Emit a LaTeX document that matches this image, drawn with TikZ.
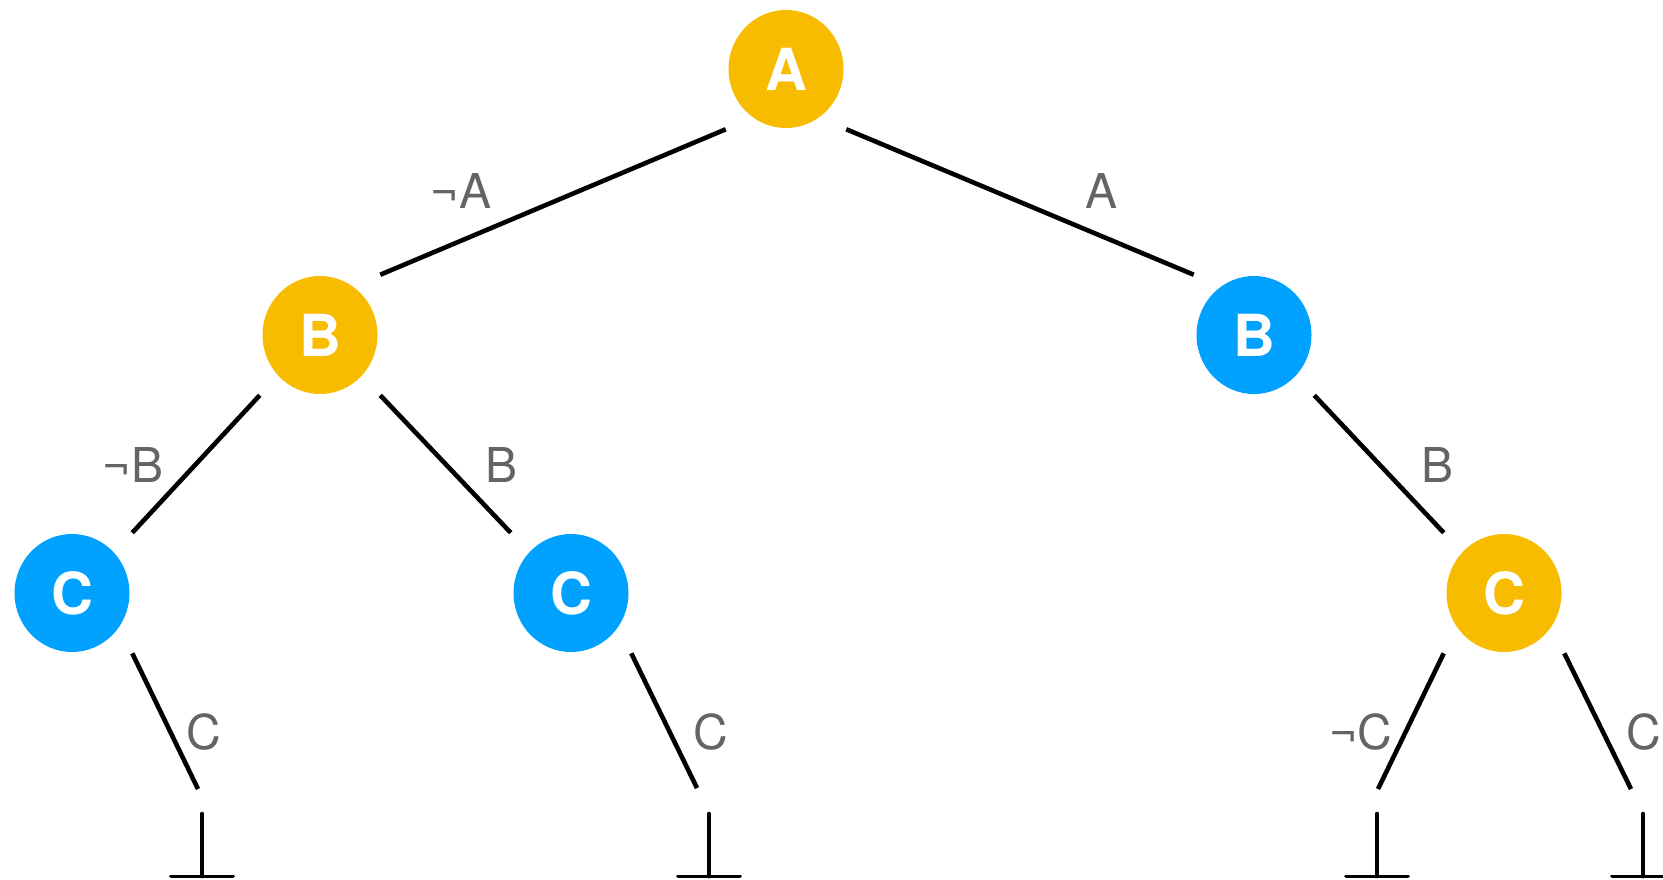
\documentclass[tikz,border=0pt]{standalone}
\usepackage{fontspec}
\setmainfont{TeX Gyre Heros}
\usetikzlibrary{shapes.geometric}

\definecolor{decidedcol}{HTML}{F7BB00}
\definecolor{impliedcol}{HTML}{00A1FF}
\definecolor{litcol}{HTML}{646464}

\begin{document}
\begin{tikzpicture}[x=0.5pt,y=-0.5pt]
    % one unit is one pixel, y grows downwards
    \tikzstyle{var}=[ellipse,minimum width=57.5pt,minimum height=59pt,inner sep=0pt,
    outer sep=13.5pt,text=white,font=\fontsize{29}{29}\selectfont\bfseries]
    \tikzstyle{decided}=[var,fill=decidedcol]
    \tikzstyle{implied}=[var,fill=impliedcol]
    \tikzstyle{branch}=[line width=2.3pt]
    \tikzstyle{lit}=[text=litcol,font=\fontsize{24}{24}\selectfont,inner sep=0pt]
    \tikzstyle{conflict}=[minimum width=30.5pt,minimum height=31pt,inner sep=0pt]
    \tikzstyle{conflict-line}=[line width=1.9pt,line cap=round]

    \useasboundingbox (0,0) rectangle (1663,879);

    \node [decided] (A)  at (786,69)   {A};
    \node [decided] (B1) at (320,335)  {B};
    \node [implied] (B2) at (1254,335) {B};
    \node [implied] (C1) at (72,593)   {C};
    \node [implied] (C2) at (571,593)  {C};
    \node [decided] (C3) at (1504,593) {C};

    \node [conflict] (bot1) at (202,845)  {};
    \node [conflict] (bot2) at (709,845)  {};
    \node [conflict] (bot3) at (1377,845) {};
    \node [conflict] (bot4) at (1643,845) {};

    \coordinate (end1) at (198,789);
    \coordinate (end2) at (697,788);
    \coordinate (end3) at (1378,789);
    \coordinate (end4) at (1631,789);

    \draw [branch] (A.225) -- (B1.45);
    \draw [branch] (A.-45) -- (B2.135);
    \draw [branch] (B1.225) -- (C1.45);
    \draw [branch] (B1.-45) -- (C2.135);
    \draw [branch] (B2.-45) -- (C3.135);
    \draw [branch] (C1.-45) -- (end1);
    \draw [branch] (C2.-45) -- (end2);
    \draw [branch] (C3.225) -- (end3);
    \draw [branch] (C3.-45) -- (end4);

    \foreach \b in {bot1,bot2,bot3,bot4}
      \draw [conflict-line] (\b.north) -- (\b.south) (\b.south west) -- (\b.south east);

    \node [lit] (lA1) at (461,191)  {¬A};
    \node [lit] (lA2) at (1101,191) {A};
    \node [lit] (lB1) at (133,465)  {¬B};
    \node [lit] (lB2) at (502,465)  {B};
    \node [lit] (lB3) at (1437,465) {B};
    \node [lit] (lC1) at (204,732)  {C};
    \node [lit] (lC2) at (711,732)  {C};
    \node [lit] (lC3) at (1361,732) {¬C};
    \node [lit] (lC4) at (1644,732) {C};

\end{tikzpicture}
\end{document}
